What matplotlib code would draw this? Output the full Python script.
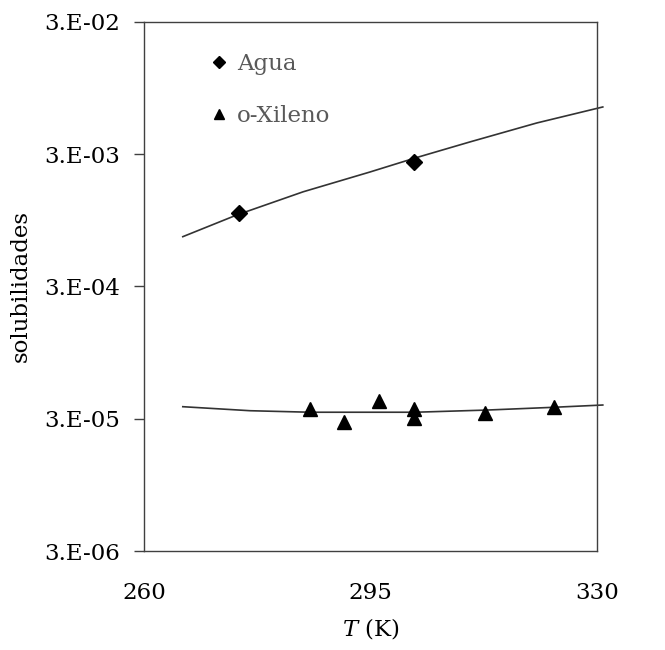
import matplotlib
matplotlib.use("Agg")
import matplotlib.pyplot as plt
import matplotlib.ticker as mticker

# measured data points
agua_T = [274.7, 301.8]
agua_s = [1.08e-3, 2.60e-3]

xil_T = [285.6, 290.9, 296.3, 301.8, 301.7, 312.7, 323.4]
xil_s = [3.56e-5, 2.84e-5, 4.08e-5, 3.58e-5, 3.04e-5, 3.31e-5, 3.66e-5]

# model curves
agua_fit_T = [266.0, 274.3, 284.6, 294.9, 301.9, 310.4, 320.7, 330.9]
agua_fit_s = [7.14e-4, 1.04e-3, 1.56e-3, 2.20e-3, 2.81e-3, 3.72e-3, 5.17e-3, 6.83e-3]

xil_fit_T = [266.0, 276.4, 285.7, 301.9, 313.0, 323.2, 330.9]
xil_fit_s = [3.70e-5, 3.45e-5, 3.36e-5, 3.36e-5, 3.49e-5, 3.66e-5, 3.81e-5]

yticks = [3e-6, 3e-5, 3e-4, 3e-3, 3e-2]
ytick_labels = ["3.E-06", "3.E-05", "3.E-04", "3.E-03", "3.E-02"]
xticks = [260, 295, 330]

plt.rcParams["font.family"] = ["DejaVu Serif"]
plt.rcParams["mathtext.fontset"] = "dejavuserif"
fs = 16.5

fig = plt.figure(figsize=(6.65, 6.5), dpi=100)
ax = fig.add_axes([0.2165, 0.1523, 0.6812, 0.8139])

line_col = "#333333"
ax.plot(agua_fit_T, agua_fit_s, color=line_col, lw=1.2, clip_on=False)
ax.plot(xil_fit_T, xil_fit_s, color=line_col, lw=1.2, clip_on=False)
ax.plot(agua_T, agua_s, "D", color="black", ms=8, ls="none", label="Agua")
ax.plot(xil_T, xil_s, "^", color="black", ms=9.5, ls="none", label="o-Xileno")

ax.set_yscale("log")
ax.set_ylim(3e-6, 3e-2)
ax.set_xlim(260, 330)
ax.yaxis.set_major_locator(mticker.FixedLocator(yticks))
ax.yaxis.set_minor_locator(mticker.NullLocator())
ax.set_yticklabels(ytick_labels)
ax.set_xticks(xticks)
ax.tick_params(axis="y", length=7, width=1, color="#404040", pad=10, labelsize=fs)
ax.tick_params(axis="x", length=0, pad=22, labelsize=fs)
for sp in ax.spines.values():
    sp.set_color("#404040")
    sp.set_linewidth(1)

ax.set_ylabel("solubilidades", fontsize=fs, labelpad=9)
ax.set_xlabel("$T$ (K)", fontsize=fs, labelpad=9)

leg = ax.legend(loc="upper left", bbox_to_anchor=(0.105, 0.98), frameon=False,
                fontsize=fs, handlelength=0.6, handletextpad=0.5, labelspacing=1.3,
                markerscale=0.75)
for t in leg.get_texts():
    t.set_color("#595959")

fig.savefig("out.png", dpi=100)
